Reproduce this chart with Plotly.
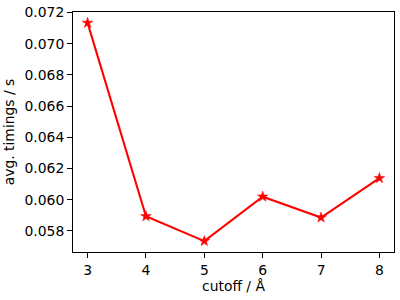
import plotly.graph_objects as go

cutoff = [3, 4, 5, 6, 7, 8]
timings = [0.07134, 0.05893, 0.05734, 0.06019, 0.05885, 0.06138]
x_ticks = [3, 4, 5, 6, 7, 8]
y_ticks = [0.058, 0.060, 0.062, 0.064, 0.066, 0.068, 0.070, 0.072]

font = dict(family="DejaVu Sans", size=13.9, color="black")

fig = go.Figure()
fig.add_trace(go.Scatter(
    x=cutoff, y=timings, mode="lines+markers",
    line=dict(color="red", width=2.08),
    marker=dict(symbol="star", size=8, color="red", line=dict(color="red", width=0.5)),
    showlegend=False,
))

ymin, ymax = min(timings), max(timings)
yr = ymax - ymin
fig.update_layout(
    width=400, height=300,
    margin=dict(l=73, r=4.5, t=9.5, b=48.3),
    paper_bgcolor="white", plot_bgcolor="white",
    font=font,
    xaxis=dict(
        range=[2.75, 8.25], tickvals=x_ticks, ticktext=[str(v) for v in x_ticks],
        ticks="outside", ticklen=4.9, tickwidth=1.1, tickcolor="black",
        showline=True, linecolor="black", linewidth=1.1, mirror=True,
        showgrid=False, zeroline=False,
        title=dict(text="cutoff / Å", font=font, standoff=4),
    ),
    yaxis=dict(
        range=[ymin - 0.05 * yr, ymax + 0.05 * yr], tickvals=y_ticks,
        ticktext=[f"{v:.3f}" for v in y_ticks],
        ticks="outside", ticklen=4.9, tickwidth=1.1, tickcolor="black",
        showline=True, linecolor="black", linewidth=1.1, mirror=True,
        showgrid=False, zeroline=False,
        title=dict(text="avg. timings / s", font=font, standoff=6),
    ),
)
fig.write_html("out.html")
